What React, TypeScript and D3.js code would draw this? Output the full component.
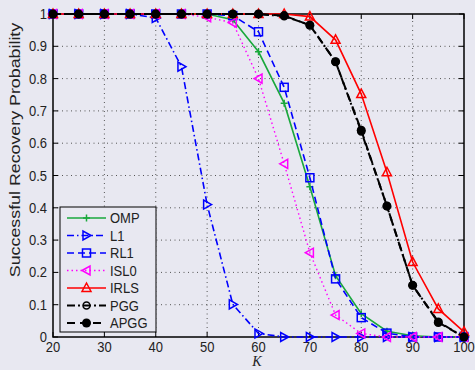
import React from "react";
import * as d3 from "d3";

// K values and recovery probabilities
const kValues = [20, 25, 30, 35, 40, 45, 50, 55, 60, 65, 70, 75, 80, 85, 90, 95, 100];
const omp = [1, 1, 1, 1, 1, 1, 1, 0.982, 0.883, 0.724, 0.465, 0.19, 0.072, 0.018, 0.004, 0, 0];
const l1 = [1, 1, 1, 1, 0.988, 0.837, 0.41, 0.101, 0.011, 0, 0, 0, 0, 0, 0, 0, 0];
const rl1 = [1, 1, 1, 1, 1, 1, 1, 0.995, 0.945, 0.773, 0.493, 0.18, 0.06, 0.012, 0, 0, 0];
const isl0 = [1, 1, 1, 1, 1, 1, 0.99, 0.973, 0.8, 0.536, 0.261, 0.068, 0.011, 0, 0, 0, 0];
const irls = [1, 1, 1, 1, 1, 1, 1, 1, 1, 1, 0.992, 0.92, 0.752, 0.51, 0.232, 0.087, 0.016];
const pgg = [1, 1, 1, 1, 1, 1, 1, 1, 1, 0.993, 0.966, 0.852, 0.636, 0.406, 0.16, 0.047, 0];
const apgg = [1, 1, 1, 1, 1, 1, 1, 1, 1, 0.995, 0.965, 0.852, 0.64, 0.405, 0.16, 0.045, 0];

const xTicks = [20, 30, 40, 50, 60, 70, 80, 90, 100];
const yTicks = [0, 0.1, 0.2, 0.3, 0.4, 0.5, 0.6, 0.7, 0.8, 0.9, 1];

const BG = "#e8e8f1";
const FONT = "Liberation Sans, Arial, sans-serif";

const series = [
  { name: "OMP", values: omp, color: "#1aa83c", dash: "", width: 1.6, marker: "plus" },
  { name: "L1", values: l1, color: "#0000ff", dash: "7,3,1.5,3", width: 1.6, marker: "right" },
  { name: "RL1", values: rl1, color: "#0000ff", dash: "7,4", width: 1.6, marker: "square" },
  { name: "ISL0", values: isl0, color: "#ff00ff", dash: "1.5,3", width: 1.4, marker: "left" },
  { name: "IRLS", values: irls, color: "#ff0000", dash: "", width: 1.6, marker: "up" },
  { name: "PGG", values: pgg, color: "#000000", dash: "8,3,2,3", width: 2, marker: "circle" },
  { name: "APGG", values: apgg, color: "#000000", dash: "8,5", width: 2, marker: "dot" },
];

function Marker({ type, x, y, color }: { type: string; x: number; y: number; color: string }) {
  const h = 4.5;
  const sw = 1.5;
  if (type === "plus")
    return (
      <path d={`M${x - 3.5},${y}H${x + 3.5}M${x},${y - 3.5}V${y + 3.5}`} stroke={color} strokeWidth={sw} />
    );
  if (type === "square")
    return <rect x={x - 4} y={y - 4} width={8} height={8} fill="none" stroke={color} strokeWidth={sw} />;
  if (type === "circle") return <circle cx={x} cy={y} r={3.5} fill="none" stroke={color} strokeWidth={sw} />;
  if (type === "dot") return <circle cx={x} cy={y} r={4.5} fill={color} />;
  let pts = "";
  if (type === "up") pts = `${x},${y - h - 0.5} ${x - h},${y + h - 1} ${x + h},${y + h - 1}`;
  if (type === "right") pts = `${x + h},${y} ${x - h + 1},${y - h} ${x - h + 1},${y + h}`;
  if (type === "left") pts = `${x - h},${y} ${x + h - 1},${y - h} ${x + h - 1},${y + h}`;
  return <polygon points={pts} fill="none" stroke={color} strokeWidth={sw} strokeLinejoin="miter" />;
}

export default function App() {
  const width = 475;
  const height = 370;
  const x = d3.scaleLinear().domain([20, 100]).range([53, 464]);
  const y = d3.scaleLinear().domain([0, 1]).range([337, 14]);
  const [x0, x1] = x.range();
  const [y0, y1] = y.range();

  const line = d3
    .line<number>()
    .x((_, i) => x(kValues[i]))
    .y((d) => y(d));

  const stretch = "scale(1,1.15)";

  return (
    <div style={{ position: "fixed", left: 0, top: 0 }}>
      <svg width={width} height={height} style={{ display: "block", background: BG }}>
        <rect width={width} height={height} fill={BG} />
        {/* grid */}
        <g stroke="#555" strokeWidth={1} strokeDasharray="1,3.5">
          {xTicks.slice(1, -1).map((t) => (
            <line key={"gx" + t} x1={x(t)} x2={x(t)} y1={y0} y2={y1} />
          ))}
          {yTicks.slice(1, -1).map((t) => (
            <line key={"gy" + t} x1={x0} x2={x1} y1={y(t)} y2={y(t)} />
          ))}
        </g>
        {/* box and inner ticks */}
        <g stroke="#000" strokeWidth={1}>
          {xTicks.map((t) => (
            <g key={"tx" + t}>
              <line x1={x(t)} x2={x(t)} y1={y0} y2={y0 - 5} />
              <line x1={x(t)} x2={x(t)} y1={y1} y2={y1 + 5} />
            </g>
          ))}
          {yTicks.map((t) => (
            <g key={"ty" + t}>
              <line x1={x0} x2={x0 + 5} y1={y(t)} y2={y(t)} />
              <line x1={x1} x2={x1 - 5} y1={y(t)} y2={y(t)} />
            </g>
          ))}
          <rect x={x0} y={y1} width={x1 - x0} height={y0 - y1} fill="none" strokeWidth={1.5} />
        </g>
        {/* tick labels */}
        <g fontFamily={FONT} fontSize={13} fill="#222">
          {xTicks.map((t) => (
            <text key={"lx" + t} transform={`translate(${x(t)},352) ${stretch}`} textAnchor="middle">
              {t}
            </text>
          ))}
          {yTicks.map((t) => (
            <text key={"ly" + t} transform={`translate(47,${y(t) + 5}) ${stretch}`} textAnchor="end">
              {t}
            </text>
          ))}
        </g>
        {/* axis labels */}
        <text
          transform={`translate(20,150) ${stretch} rotate(-90)`}
          textAnchor="middle"
          fontFamily={FONT}
          fontSize={15.5}
          fill="#222"
        >
          Successful Recovery Probability
        </text>
        <text
          x={257}
          y={366}
          textAnchor="middle"
          fontFamily="Liberation Serif, Times New Roman, serif"
          fontStyle="italic"
          fontSize={14}
          fill="#222"
        >
          K
        </text>
        {/* curves */}
        {series.map((s) => (
          <g key={s.name}>
            <path
              d={line(s.values) || ""}
              fill="none"
              stroke={s.color}
              strokeWidth={s.width}
              strokeDasharray={s.dash || undefined}
            />
            {s.values.map((v, i) => (
              <Marker key={i} type={s.marker} x={x(kValues[i])} y={y(v)} color={s.color} />
            ))}
          </g>
        ))}
        {/* legend */}
        <g>
          <rect x={60} y={207} width={96} height={125} fill={BG} stroke="#000" strokeWidth={1} />
          {series.map((s, i) => {
            const ly = 218 + i * 17.5;
            return (
              <g key={"lg" + s.name}>
                <line
                  x1={67}
                  x2={106}
                  y1={ly}
                  y2={ly}
                  stroke={s.color}
                  strokeWidth={s.width}
                  strokeDasharray={s.dash || undefined}
                />
                <Marker type={s.marker} x={86.5} y={ly} color={s.color} />
                <text
                  transform={`translate(110,${ly + 5}) ${stretch}`}
                  fontFamily={FONT}
                  fontSize={13}
                  fill="#222"
                >
                  {s.name}
                </text>
              </g>
            );
          })}
        </g>
      </svg>
    </div>
  );
}
